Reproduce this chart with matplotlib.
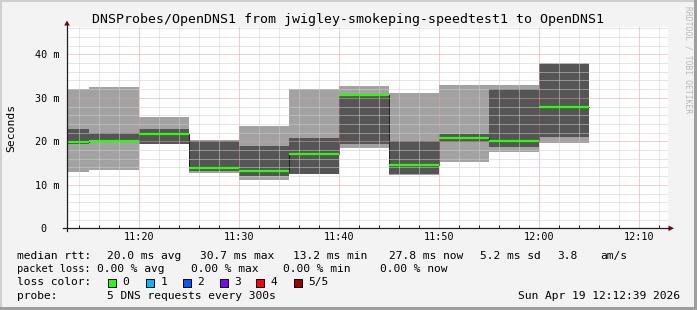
import matplotlib
matplotlib.use("Agg")
import matplotlib.pyplot as plt
from matplotlib.patches import Rectangle, Polygon
from matplotlib.lines import Line2D

# minutes after 11:00, each step is one 5 minute rrd row
seg_start = [10, 15, 20, 25, 30, 35, 40, 45, 50, 55, 60]
seg_width = 5
# sorted pings per row (ms), p3 is the median
p1 = [13.0, 13.4, 19.4, 12.8, 11.1, 12.4, 18.5, 12.3, 15.3, 17.6, 19.7]
p2 = [19.5, 19.9, 19.5, 13.1, 12.1, 12.5, 19.4, 12.5, 19.9, 18.8, 20.9]
p3 = [19.9, 20.1, 21.6, 13.9, 13.2, 17.1, 30.7, 14.6, 20.8, 20.1, 27.8]
p4 = [22.8, 22.0, 22.8, 20.1, 19.0, 20.8, 31.0, 20.1, 21.7, 32.0, 37.9]
p5 = [32.0, 32.6, 25.7, 20.2, 23.6, 32.0, 32.7, 31.2, 32.9, 32.9, 38.0]

xtick_pos = [20, 30, 40, 50, 60, 70]
xtick_labels = ["11:20", "11:30", "11:40", "11:50", "12:00", "12:10"]
ytick_pos = [0, 10, 20, 30, 40]
ytick_labels = ["0  ", "10 m", "20 m", "30 m", "40 m"]

title = "DNSProbes/OpenDNS1 from jwigley-smokeping-speedtest1 to OpenDNS1"
loss_labels = ["0", "1", "2", "3", "4", "5/5"]
loss_colors = ["#26ff00", "#00b8ff", "#0059ff", "#7e00ff", "#ff0000", "#a10000"]

W, H = 697, 310
MONO = "DejaVu Sans Mono"


def fx(x):
    return x / W


def fy(y):
    return 1 - y / H


fig = plt.figure(figsize=(W / 100, H / 100), dpi=100)
fig.patch.set_facecolor("#f3f3f3")

# 3d-ish border like rrdtool
fig.add_artist(Rectangle((0, fy(2)), 1, 2 / H, transform=fig.transFigure, color="#cfcfcf", lw=0))
fig.add_artist(Rectangle((0, 0), 2 / W, 1, transform=fig.transFigure, color="#cfcfcf", lw=0))
fig.add_artist(Rectangle((0, 0), 1, 3 / H, transform=fig.transFigure, color="#9e9e9e", lw=0))
fig.add_artist(Rectangle((1 - 3 / W, 0), 3 / W, 1, transform=fig.transFigure, color="#9e9e9e", lw=0))

left, right, top, bottom = 67, 668.3, 27, 228.3
ax = fig.add_axes([fx(left), fy(bottom), (right - left) / W, (bottom - top) / H])
ax.set_facecolor("white")
ax.set_xlim(12.77, 72.9)
ax.set_ylim(0, 46.3)

edges = seg_start + [seg_start[-1] + seg_width]
ax.fill_between(edges, p1 + [p1[-1]], p5 + [p5[-1]], step="post", color="#a2a2a2", lw=0, zorder=1)
ax.fill_between(edges, p2 + [p2[-1]], p4 + [p4[-1]], step="post", color="#555555", lw=0, zorder=1.1)

# grid on top of the smoke
ax.set_xticks(xtick_pos)
ax.set_xticklabels(xtick_labels)
ax.set_xticks(range(14, 73, 2), minor=True)
ax.set_yticks(ytick_pos)
ax.set_yticklabels(ytick_labels)
ax.set_yticks(range(2, 47, 2), minor=True)
ax.grid(which="minor", color="#cfcfcf", lw=0.72, linestyle=(0, (1, 1)))
ax.grid(which="major", color="#e89a9a", lw=0.72, linestyle=(0, (1, 1)))
ax.set_axisbelow(False)
for gl in ax.get_xgridlines() + ax.get_ygridlines():
    gl.set_zorder(1.6)

# median: thin dark step line, then green bars
ax.step(edges, p3 + [p3[-1]], where="post", color="#202020", lw=0.72, zorder=2)
ax.hlines(p3, seg_start, [s + seg_width for s in seg_start], color=loss_colors[0], lw=1.6, zorder=3)

for s in ax.spines.values():
    s.set_visible(False)
ax.tick_params(axis="both", which="both", direction="in", length=0, labelsize=7.3, colors="black")
ax.tick_params(axis="x", which="major", pad=3.0)
ax.tick_params(axis="y", which="major", pad=5.5)
ax.tick_params(axis="x", which="minor", length=2, width=0.7, color="#202020")
for lab in ax.get_xticklabels() + ax.get_yticklabels():
    lab.set_family(MONO)

# axes lines with arrows
fig.add_artist(Line2D([fx(63), fx(669)], [fy(bottom), fy(bottom)], color="#202020", lw=0.9))
fig.add_artist(Line2D([fx(left), fx(left)], [fy(231), fy(25)], color="#202020", lw=0.9))
fig.add_artist(Polygon([(fx(668.5), fy(bottom - 2.8)), (fx(668.5), fy(bottom + 2.8)), (fx(674), fy(bottom))],
                       closed=True, transform=fig.transFigure, color="#800000", lw=0))
fig.add_artist(Polygon([(fx(left - 2.8), fy(25.5)), (fx(left + 2.8), fy(25.5)), (fx(left), fy(20.5))],
                       closed=True, transform=fig.transFigure, color="#800000", lw=0))

fig.text(fx(347.7), fy(19), title, family=MONO, size=9.5, ha="center", va="center")
fig.text(fx(11), fy(127.6), "Seconds", family=MONO, size=8.2, rotation=90, ha="center", va="center")
fig.text(fx(688), fy(60), "RRDTOOL / TOBI OETIKER", family=MONO, size=5.8, rotation=-90,
         ha="center", va="center", color="#b8b8b8")

fs = 8.1
line1 = [(16.7, "median rtt:"), (107.3, "20.0 ms avg"), (200, "30.7 ms max"), (292.7, "13.2 ms min"),
         (389.3, "27.8 ms now"), (480, "5.2 ms sd"), (557.3, "3.8"), (600, "am/s")]
line2 = [(97.3, "0.00 % avg"), (190.7, "0.00 % max"), (283.3, "0.00 % min"), (380, "0.00 % now")]
for x, t in line1:
    fig.text(fx(x), fy(255.7), t, family=MONO, size=fs, va="center")
# the reference squeezes this label a little
fig.text(fx(16.7), fy(268.5), "packet loss:", family=MONO, size=7.4, va="center")
for x, t in line2:
    fig.text(fx(x), fy(268.5), t, family=MONO, size=fs, va="center")

fig.text(fx(16.7), fy(282), "loss color:", family=MONO, size=fs, va="center")
sw_x = [108, 146, 183, 220, 256, 294]
for x, lab, col in zip(sw_x, loss_labels, loss_colors):
    fig.add_artist(Rectangle((fx(x), fy(286.5)), 8 / W, 8 / H, transform=fig.transFigure,
                             facecolor=col, edgecolor="black", lw=0.7))
    fig.text(fx(x + 14.5), fy(282), lab, family=MONO, size=fs, va="center")

fig.text(fx(16.7), fy(296), "probe:", family=MONO, size=fs, va="center")
fig.text(fx(107.3), fy(296), "5 DNS requests every 300s", family=MONO, size=fs, va="center")
fig.text(fx(680.5), fy(296), "Sun Apr 19 12:12:39 2026", family=MONO, size=fs, va="center", ha="right")

fig.savefig("out.png", dpi=100, facecolor=fig.get_facecolor())
